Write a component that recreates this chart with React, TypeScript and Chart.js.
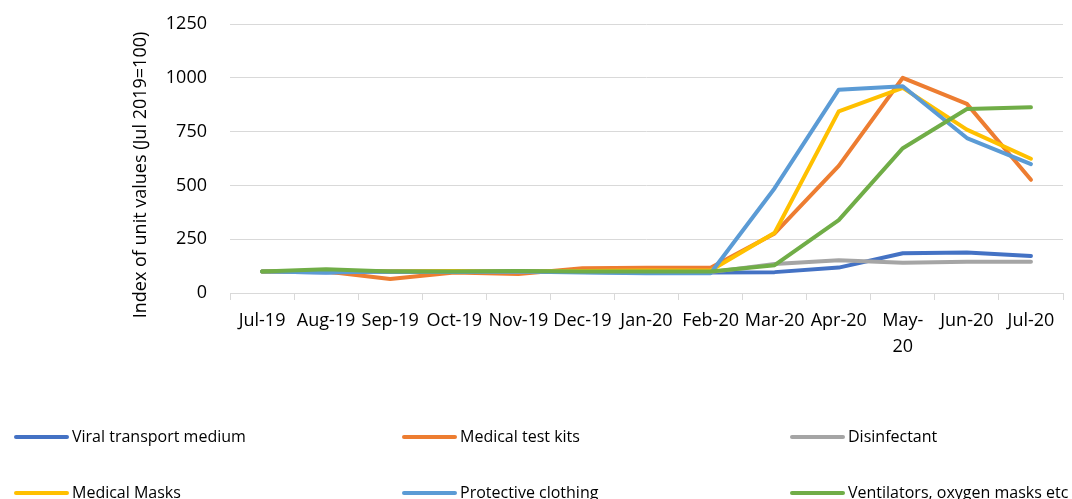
import React, { useEffect, useRef } from "react";
import { Chart, registerables } from "chart.js";

Chart.register(...registerables);

const categories: (string | string[])[] = [
  "Jul-19", "Aug-19", "Sep-19", "Oct-19", "Nov-19", "Dec-19", "Jan-20",
  "Feb-20", "Mar-20", "Apr-20", ["May-", "20"], "Jun-20", "Jul-20",
];

const viralTransport = [100, 95, 100, 98, 100, 98, 95, 95, 97, 118, 185, 188, 172];
const medicalTestKits = [100, 100, 65, 95, 88, 115, 117, 117, 277, 591, 1000, 879, 526];
const disinfectant = [100, 100, 100, 100, 100, 100, 98, 97, 135, 152, 140, 145, 145];
const medicalMasks = [100, 100, 102, 102, 100, 102, 105, 105, 280, 844, 953, 759, 624];
const protectiveClothing = [100, 95, 100, 98, 100, 95, 92, 92, 487, 945, 961, 720, 599];
const ventilators = [100, 110, 100, 100, 102, 100, 100, 100, 129, 339, 673, 855, 863];

const seriesNames = [
  "Viral transport medium",
  "Medical test kits",
  "Disinfectant",
  "Medical Masks",
  "Protective clothing",
  "Ventilators, oxygen masks etc",
];
const seriesColors = ["#4472C4", "#ED7D31", "#A5A5A5", "#FFC000", "#5B9BD5", "#70AD47"];
const seriesValues = [viralTransport, medicalTestKits, disinfectant, medicalMasks, protectiveClothing, ventilators];

const yTicks = [0, 250, 500, 750, 1000, 1250];
const yTitle = "Index of unit values (Jul 2019=100)";

const FONT = "'Open Sans', 'DejaVu Sans', sans-serif";

export default function App() {
  const ref = useRef<HTMLCanvasElement | null>(null);

  useEffect(() => {
    document.body.style.margin = "0";
    const canvas = ref.current;
    if (!canvas) return;

    const extras = {
      id: "extras",
      afterDraw(chart: any) {
        const ctx = chart.ctx as CanvasRenderingContext2D;
        ctx.save();
        // y axis title
        ctx.translate(141, 175);
        ctx.rotate(-Math.PI / 2);
        ctx.fillStyle = "#000";
        ctx.font = `18px ${FONT}`;
        ctx.textAlign = "center";
        ctx.textBaseline = "middle";
        ctx.fillText(yTitle, 0, 0);
        ctx.restore();

        // legend
        ctx.save();
        const colX = [14, 402, 790];
        const rowY = [437, 493];
        seriesNames.forEach((name, i) => {
          const cx = colX[i % 3];
          const cy = rowY[Math.floor(i / 3)];
          ctx.strokeStyle = seriesColors[i];
          ctx.lineWidth = 4;
          ctx.lineCap = "round";
          ctx.beginPath();
          ctx.moveTo(cx + 2, cy);
          ctx.lineTo(cx + 53, cy);
          ctx.stroke();
          ctx.fillStyle = "#000";
          ctx.font = `16px ${FONT}`;
          ctx.textAlign = "left";
          ctx.textBaseline = "middle";
          ctx.fillText(name, cx + 58, cy);
        });
        ctx.restore();
      },
    };

    const chart = new Chart(canvas, {
      type: "line",
      data: {
        labels: categories as any,
        datasets: seriesNames.map((name, i) => ({
          label: name,
          data: seriesValues[i],
          borderColor: seriesColors[i],
          backgroundColor: seriesColors[i],
          borderWidth: 4,
          pointRadius: 0,
          tension: 0,
          borderCapStyle: "round" as const,
          borderJoinStyle: "round" as const,
          order: seriesNames.length - i,
        })),
      },
      options: {
        animation: false,
        responsive: true,
        maintainAspectRatio: false,
        layout: { padding: { top: 24, right: 9, bottom: 0, left: 0 } },
        plugins: {
          legend: { display: false },
          tooltip: { enabled: false },
        },
        scales: {
          x: {
            type: "category",
            offset: true,
            afterFit: (s: any) => {
              s.height = 206;
              s.paddingLeft = 0;
              s.paddingRight = 0;
            },
            grid: {
              offset: true,
              drawOnChartArea: false,
              drawTicks: true,
              tickLength: 7,
              color: "#D9D9D9",
              lineWidth: 1,
            },
            border: { display: true, color: "#D9D9D9" },
            ticks: {
              color: "#000",
              font: { family: FONT, size: 18, lineHeight: 1.45 },
              maxRotation: 0,
              minRotation: 0,
              autoSkip: false,
              padding: 8,
            },
          },
          y: {
            min: 0,
            max: 1250,
            afterFit: (s: any) => {
              s.width = 230;
              s.paddingTop = 0;
              s.paddingBottom = 0;
            },
            afterBuildTicks: (s: any) => {
              s.ticks = yTicks.map((v) => ({ value: v }));
            },
            grid: { color: "#D9D9D9", lineWidth: 1, drawTicks: false },
            border: { display: false },
            ticks: {
              color: "#000",
              font: { family: FONT, size: 18 },
              padding: 23,
              callback: (v: any) => String(v),
            },
          },
        },
      },
      plugins: [extras],
    });

    return () => chart.destroy();
  }, []);

  return (
    <div style={{ position: "relative", width: 1072, height: 499 }}>
      <canvas ref={ref} />
    </div>
  );
}
